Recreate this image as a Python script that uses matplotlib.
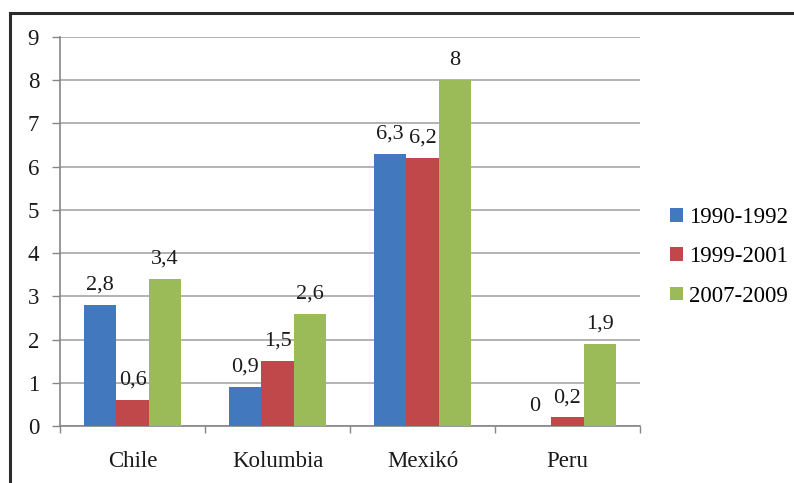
import numpy as np
import matplotlib.pyplot as plt
from matplotlib.lines import Line2D
from matplotlib.patches import Patch

# data
countries = ["Chile", "Kolumbia", "Mexikó", "Peru"]
periods = ["1990-1992", "1999-2001", "2007-2009"]
v_1990 = [2.8, 0.9, 6.3, 0.0]
v_1999 = [0.6, 1.5, 6.2, 0.2]
v_2007 = [3.4, 2.6, 8.0, 1.9]
yticks = [0, 1, 2, 3, 4, 5, 6, 7, 8, 9]

colors = ["#4279BE", "#C0474A", "#9BBB59"]
grid_color = "#A6A6A6"
axis_color = "#868686"

plt.rcParams['font.family'] = ['Liberation Serif', 'DejaVu Serif']

fig = plt.figure(figsize=(7.94, 4.83), dpi=100)
ax = fig.add_axes([60/794, 1-426/483, 580/794, 389/483])

x = np.arange(len(countries))
w = 0.223
series = [v_1990, v_1999, v_2007]
for i, vals in enumerate(series):
    pos = x + (i-1)*w
    ax.bar(pos, vals, width=w, color=colors[i], edgecolor="none", zorder=3)
    for px, v in zip(pos, vals):
        lab = ("%g" % v).replace(".", ",")
        ax.annotate(lab, (px, v), xytext=(0, 11), textcoords="offset points",
                    ha="center", va="baseline", fontsize=16, color="#1a1a1a")

ax.set_xlim(-0.5, 3.5)
ax.set_ylim(0, 9)
ax.set_yticks(yticks)
ax.yaxis.grid(True, color=grid_color, linewidth=1.2, zorder=0)
ax.tick_params(axis="y", length=6, width=1, color=axis_color, pad=9,
               labelsize=16.5, labelcolor="#1a1a1a")

# category boundary ticks, labels at centres
ax.set_xticks(np.arange(-0.5, 4.0, 1.0))
ax.set_xticklabels([])
ax.tick_params(axis="x", which="major", length=5, width=1, color=axis_color)
ax.set_xticks(x, minor=True)
ax.set_xticklabels(countries, minor=True)
ax.tick_params(axis="x", which="minor", length=0, pad=18, labelsize=16.5,
               labelcolor="#1a1a1a")

for s in ["top", "right"]:
    ax.spines[s].set_visible(False)
for s in ["left", "bottom"]:
    ax.spines[s].set_color(axis_color)
    ax.spines[s].set_linewidth(1.2)

handles = [Patch(facecolor=c, edgecolor="none") for c in colors]
fig.legend(handles, periods, loc="upper left", bbox_to_anchor=(670/794, 1-207/483),
           frameon=False, fontsize=16.5, handlelength=0.55, handleheight=0.55,
           handletextpad=0.3, labelspacing=0.8, borderaxespad=0, borderpad=0)

# outer chart frame (only left and top edge visible in the crop)
fig.add_artist(Line2D([10/794, 10/794], [0, 1-13/483], transform=fig.transFigure,
                      color="#2b2b2b", linewidth=2.2))
fig.add_artist(Line2D([10/794, 1], [1-13/483, 1-13/483], transform=fig.transFigure,
                      color="#2b2b2b", linewidth=2.2))

fig.savefig("out.png", dpi=100)
